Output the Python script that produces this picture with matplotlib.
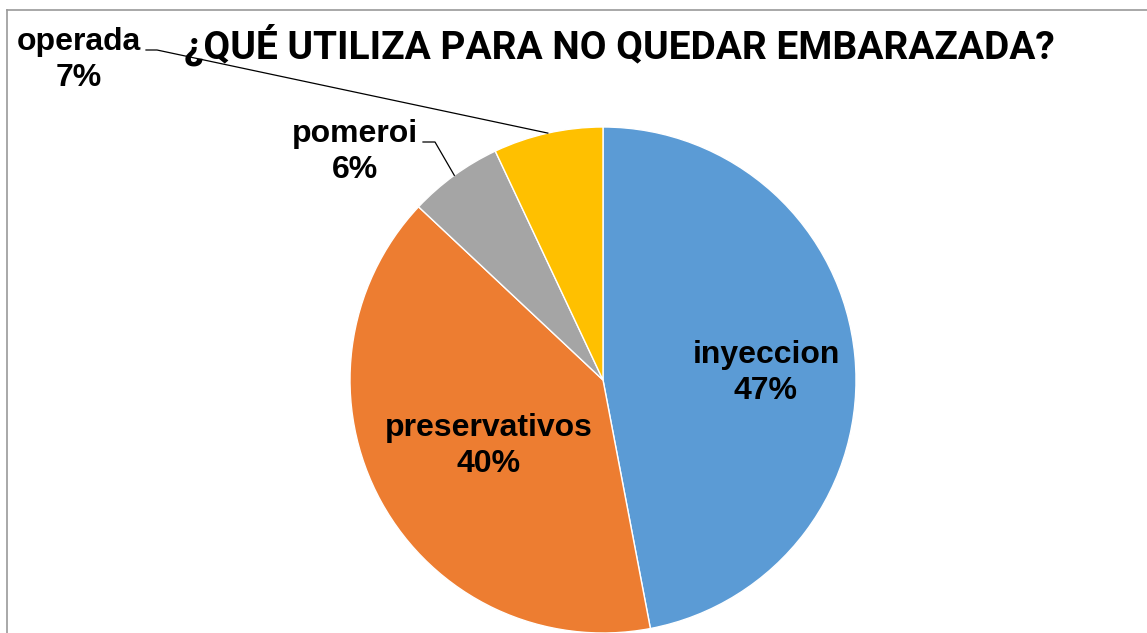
import matplotlib

matplotlib.use("Agg")

import numpy as np
import matplotlib.pyplot as plt

# Data
categories = ["inyeccion", "preservativos", "pomeroi", "operada"]
values = [47, 40, 6, 7]
colors = ["#5B9BD5", "#ED7D31", "#A5A5A5", "#FFC000"]
title = "¿QUÉ UTILIZA PARA NO QUEDAR EMBARAZADA?"

W, H = 1147, 633
CX, CY, R = 603, H - 380, 253

fig = plt.figure(figsize=(W / 100, H / 100), dpi=100)
ax = fig.add_axes([0, 0, 1, 1])

wedges, _ = ax.pie(values, colors=colors, startangle=90, counterclock=False,
                   center=(CX, CY), radius=R, frame=True,
                   wedgeprops=dict(edgecolor="white", linewidth=1.0))
ax.set_xlim(0, W)
ax.set_ylim(0, H)
ax.set_aspect("equal")
ax.axis("off")

# chart frame (only left/top visible in the crop)
ax.plot([7, 7], [0, H - 10], color="#9a9a9a", lw=1.2)
ax.plot([7, W], [H - 10, H - 10], color="#9a9a9a", lw=1.2)

lab = dict(family=["Liberation Sans", "DejaVu Sans"], fontweight="bold",
           fontsize=23, color="black", ha="center", va="center")

# inside labels
ax.text(766, H - 355, categories[0], **lab)
ax.text(766, H - 391, f"{values[0]}%", **lab)
ax.text(489, H - 428, categories[1], **lab)
ax.text(489, H - 464, f"{values[1]}%", **lab)

# outside labels with leader lines
ax.text(355, H - 134, categories[2], **lab)
ax.text(355, H - 170, f"{values[2]}%", **lab)
ax.text(79, H - 42, categories[3], **lab)
ax.text(79, H - 78, f"{values[3]}%", **lab)

def edge_point(w):
    mid = np.deg2rad((w.theta1 + w.theta2) / 2)
    return CX + R * np.cos(mid), CY + R * np.sin(mid)

px, py = edge_point(wedges[2])
ax.plot([423, 435, px], [H - 142, H - 142, py], color="black", lw=0.9)
px, py = edge_point(wedges[3])
ax.plot([146, 157, px], [H - 50, H - 50, py], color="black", lw=0.9)

ax.text(619, H - 45, title, family=["Roboto", "DejaVu Sans"],
        fontweight="bold", fontsize=28, ha="center", va="center", color="black")

fig.savefig("out.png", dpi=100, facecolor="white")
